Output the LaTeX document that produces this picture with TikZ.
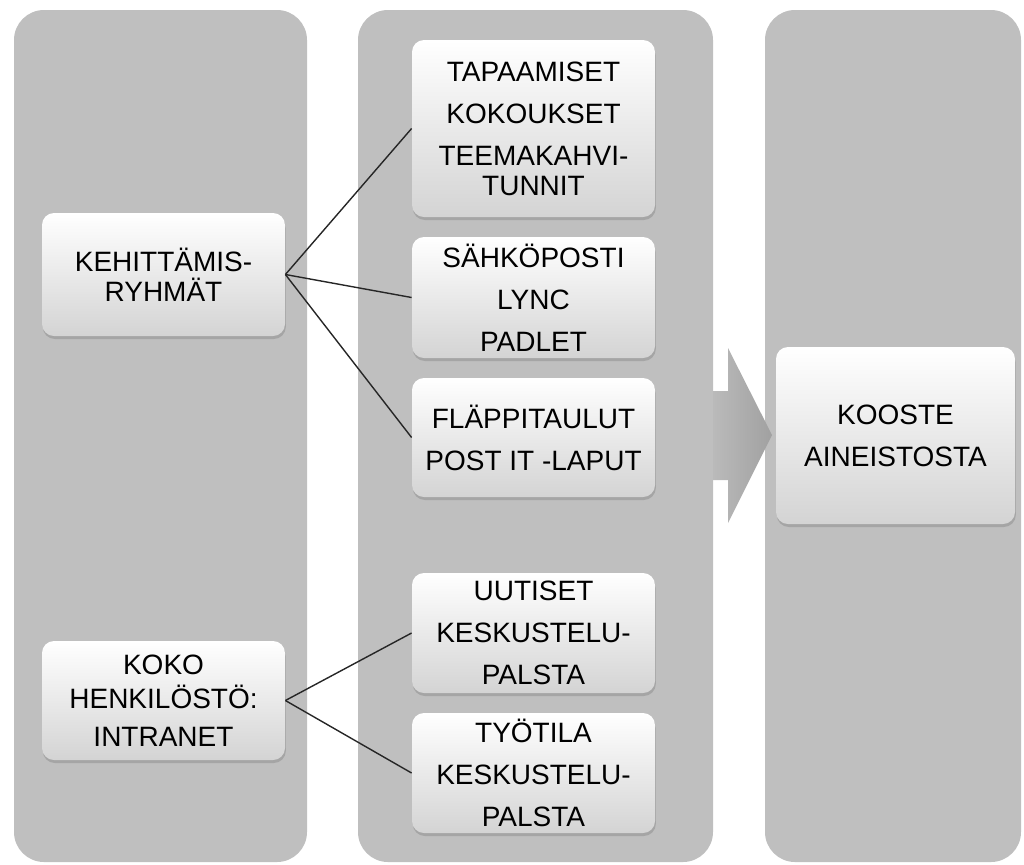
\documentclass[tikz,border=0pt]{standalone}
\usepackage{fontspec}
\setmainfont{Liberation Sans}
\usetikzlibrary{shadows}

\begin{document}
\begin{tikzpicture}[x=0.5pt,y=-0.5pt]
  \tikzstyle{column}=[fill=black!25,rounded corners=15pt]
  \tikzstyle{box}=[rectangle,rounded corners=6pt,top color=white,bottom color=black!17,
                   drop shadow={opacity=0.4,shadow xshift=0.4pt,shadow yshift=-1.5pt},
                   minimum width=121.5pt,inner sep=0pt,align=center,
                   font=\fontsize{14}{15}\selectfont]
  \tikzstyle{link}=[draw=black!85,line width=0.7pt]
  \useasboundingbox (0,0) rectangle (1024,864);
  % columns
  \fill[column] (14,10) rectangle (307,862);
  \fill[column] (358,10) rectangle (713,862);
  \fill[column] (765,10) rectangle (1021,862);
  % big arrow
  \shade[left color=black!27,right color=black!37]
    (713,391) -- (728,391) -- (728,348) -- (772,435) -- (728,523) -- (728,480) -- (713,480) -- cycle;
  % left column
  \node[box,minimum height=61.5pt] (keh) at (163.5,274.5) {KEHITTÄMIS-\\RYHMÄT};
  \node[box,minimum height=59.5pt] (koko) at (163.5,700.5) {KOKO\\[2pt] HENKILÖSTÖ:\\[4pt] INTRANET};
  % middle column
  \node[box,minimum height=88.5pt] (tap) at (533.5,128.5)
    {TAPAAMISET\\[6pt] KOKOUKSET\\[6pt] TEEMAKAHVI-\\TUNNIT};
  \node[box,minimum height=60.5pt] (sah) at (533.5,297.5)
    {SÄHKÖPOSTI\\[6pt] LYNC\\[6pt] PADLET};
  \node[box,minimum height=59.5pt] (fla) at (533.5,437.5)
    {FLÄPPITAULUT\\[6pt] POST IT -LAPUT};
  \node[box,minimum height=60pt] (uut) at (533.5,633)
    {UUTISET\\[6pt] KESKUSTELU-\\[6pt] PALSTA};
  \node[box,minimum height=60pt] (tyo) at (533.5,773)
    {TYÖTILA\\[6pt] KESKUSTELU-\\[6pt] PALSTA};
  % right column
  \node[box,minimum width=119.5pt,minimum height=88.5pt] (koo) at (895.5,435.5)
    {KOOSTE\\[6pt] AINEISTOSTA};
  % links
  \draw[link] (keh.east) -- (tap.west);
  \draw[link] (keh.east) -- (sah.west);
  \draw[link] (keh.east) -- (fla.west);
  \draw[link] (koko.east) -- (uut.west);
  \draw[link] (koko.east) -- (tyo.west);
\end{tikzpicture}
\end{document}
